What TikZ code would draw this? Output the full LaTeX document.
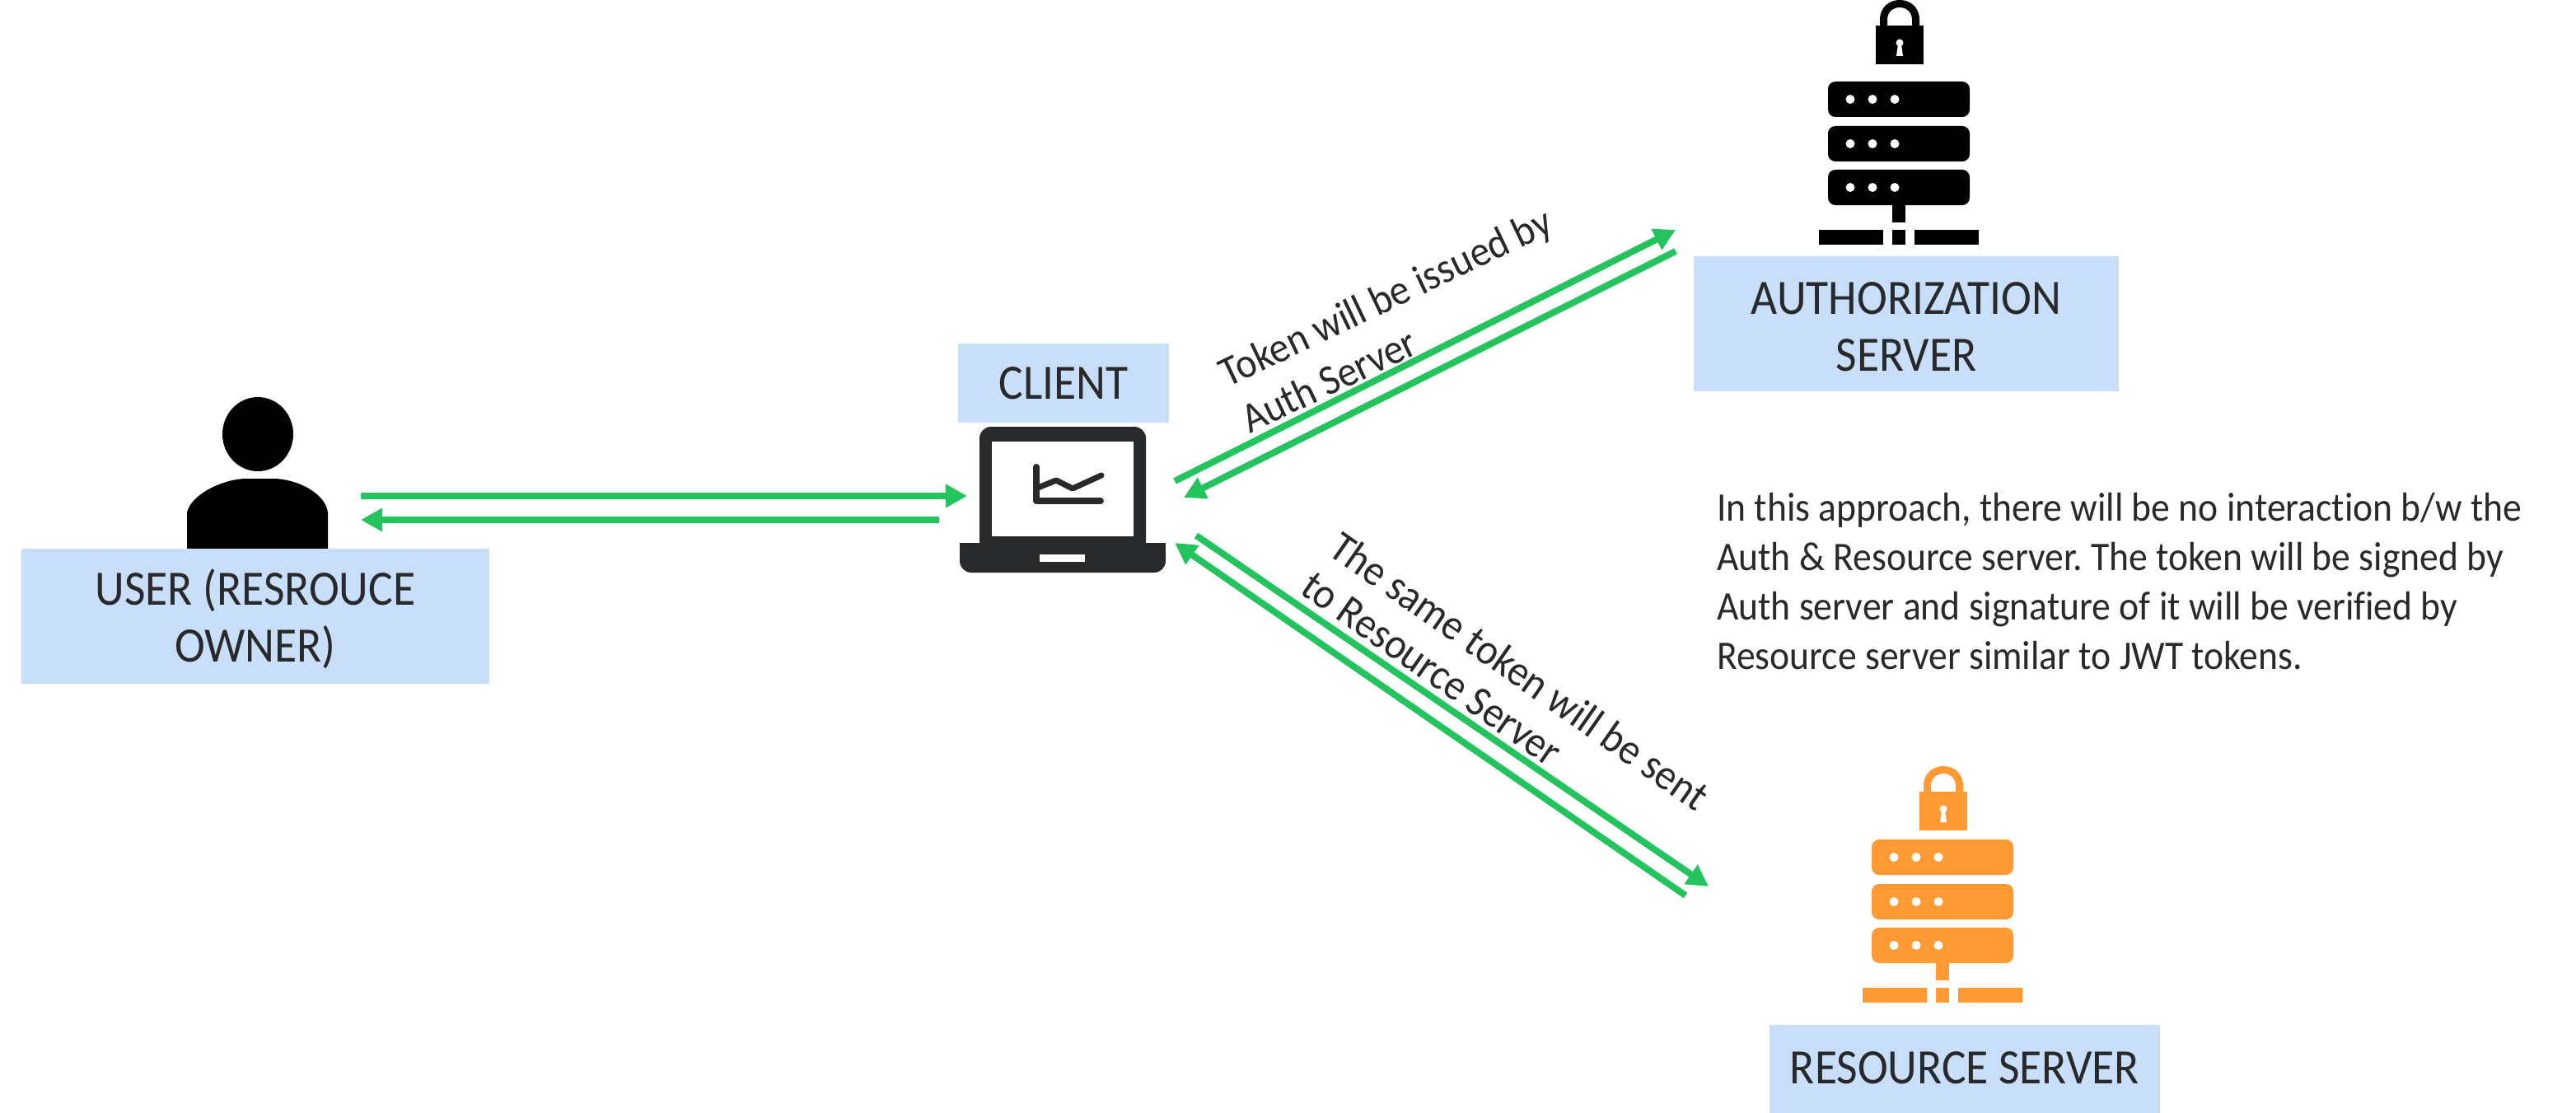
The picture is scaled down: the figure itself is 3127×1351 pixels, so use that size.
\documentclass[tikz,border=0pt]{standalone}
\usepackage{fontspec}
\setmainfont[FakeStretch=0.925,Ligatures=CommonOff]{Carlito}
\usetikzlibrary{arrows.meta}
\definecolor{boxblue}{HTML}{C9DEF8}
\definecolor{arrowgreen}{HTML}{23C45E}
\definecolor{iconorange}{HTML}{FF9A35}
\definecolor{inkdark}{HTML}{28292B}
\newcommand{\bigfs}{\fontsize{60}{69.5}\selectfont}
\newcommand{\notefs}{\fontsize{49.3}{60}\selectfont\frenchspacing}
\newcommand{\lowerline}{\rule{0pt}{50pt}}
% #1 centre x, #2 rack top y, #3 colour, #4 lock top offset above rack top
\newcommand{\serverIcon}[4]{%
  \begin{scope}[shift={(#1,#2)}]
    \foreach \ry in {0,54,107}{
      \fill[#3,rounded corners=9pt] (-86,\ry) rectangle (86,\ry+43);
      \foreach \dx in {-59,-32,-5}{\fill[white] (\dx,\ry+21.5) circle[radius=5.5pt];}
    }
    \fill[#3] (-8,150) rectangle (8,171);
    \fill[#3] (-97,180) rectangle (-19,198);
    \fill[#3] (-8,180) rectangle (8,198);
    \fill[#3] (19,180) rectangle (97,198);
    \begin{scope}[shift={(1,-#4)}]
      \fill[#3] (-24,34) -- (-24,24) .. controls (-24,-8) and (24,-8) .. (24,24) -- (24,34) -- (15,34) -- (15,24) .. controls (15,4) and (-15,4) .. (-15,24) -- (-15,34) -- cycle;
      \fill[#3] (-29,31) rectangle (29,78);
      \fill[white] (0,52) circle[radius=4.5pt];
      \fill[white] (-2,54) -- (2,54) -- (4,68) -- (-4,68) -- cycle;
    \end{scope}
  \end{scope}}
\tikzset{
  x=1pt,y=-1pt,
  labelbox/.style={fill=boxblue,text=inkdark,font=\bigfs,align=center,inner sep=0pt,anchor=center},
  arrowline/.style={draw=arrowgreen,line width=8pt,-{Triangle[length=26pt,width=27pt]}},
  slanted/.style={text=inkdark,align=left,inner sep=0pt},
}
\begin{document}
\begin{tikzpicture}
\useasboundingbox (0,0) rectangle (3127,1351);
% person
\fill[black] (313,527) ellipse[x radius=43pt,y radius=45pt];
\fill[black] (227,666) -- (227,622) .. controls (232,600) and (270,582) .. (297,581) -- (335,581) .. controls (365,583) and (395,600) .. (398,622) -- (398,666) -- cycle;
% label boxes
\node[labelbox,minimum width=568pt,minimum height=164pt] (user) at (310,748) {\lowerline USER (RESROUCE\\OWNER)};
\node[labelbox,minimum width=256pt,minimum height=96pt] (client) at (1291,465) {\raisebox{-5pt}{CLIENT}};
\node[labelbox,minimum width=516pt,minimum height=164pt] (auth) at (2314,393) {\rule{0pt}{46pt}AUTHORIZATION\\SERVER};
\node[labelbox,minimum width=474pt,minimum height=107pt] (res) at (2385,1297.5) {\raisebox{2pt}{RESOURCE SERVER}};
% laptop
\fill[inkdark,rounded corners=14pt] (1189,670) -- (1189,518) -- (1391,518) -- (1391,670) -- cycle;
\fill[inkdark,rounded corners=14pt] (1165,659) -- (1415,659) -- (1415,695) -- (1165,695) -- cycle;
\fill[inkdark] (1165,659) rectangle (1415,675);
\fill[white] (1204,536) rectangle (1376,651);
\fill[white] (1262,673) rectangle (1317,682);
\draw[inkdark,line width=8pt,line cap=round,line join=round] (1258,567) -- (1258,608) -- (1336,608);
\draw[inkdark,line width=7pt,line cap=round,line join=round] (1260,592) -- (1282,583) -- (1302,593) -- (1337,577);
% servers
\serverIcon{2305}{99}{black}{99}
\serverIcon{2358}{1019}{iconorange}{89}
% connector ends
\coordinate (u1) at (438,602);
\coordinate (c1) at (1174,602);
\coordinate (c2) at (1140,631);
\coordinate (u2) at (438,631);
\coordinate (c3) at (1426,584);
\coordinate (a1) at (2034,279);
\coordinate (a2) at (2034,305);
\coordinate (c4) at (1437,604);
\coordinate (c5) at (1452,650);
\coordinate (r1) at (2074,1076);
\coordinate (r2) at (2046,1087);
\coordinate (c6) at (1426,659);
\draw[arrowline] (u1) -- (c1);
\draw[arrowline] (c2) -- (u2);
\draw[arrowline] (c3) -- (a1);
\draw[arrowline] (a2) -- (c4);
\draw[arrowline] (c5) -- (r1);
\draw[arrowline] (r2) -- (c6);
% labels
\node[slanted,rotate=25.5,font=\fontsize{51.5}{62}\selectfont] (tok1) at (1695,388) {Token will be issued by\\Auth Server};
\node[slanted,rotate=-35,font=\fontsize{52.5}{58}\selectfont] (tok2) at (1828,838) {The same token will be sent\\to Resource Server};
\node[text=inkdark,font=\notefs,align=left,anchor=north west,inner sep=0pt] (note) at (2084,598) {In this approach, there will be no interaction b/w the\\Auth \& Resource server. The token will be signed by\\Auth server and signature of it will be verified by\\Resource server similar to JWT tokens.};
\end{tikzpicture}
\end{document}
